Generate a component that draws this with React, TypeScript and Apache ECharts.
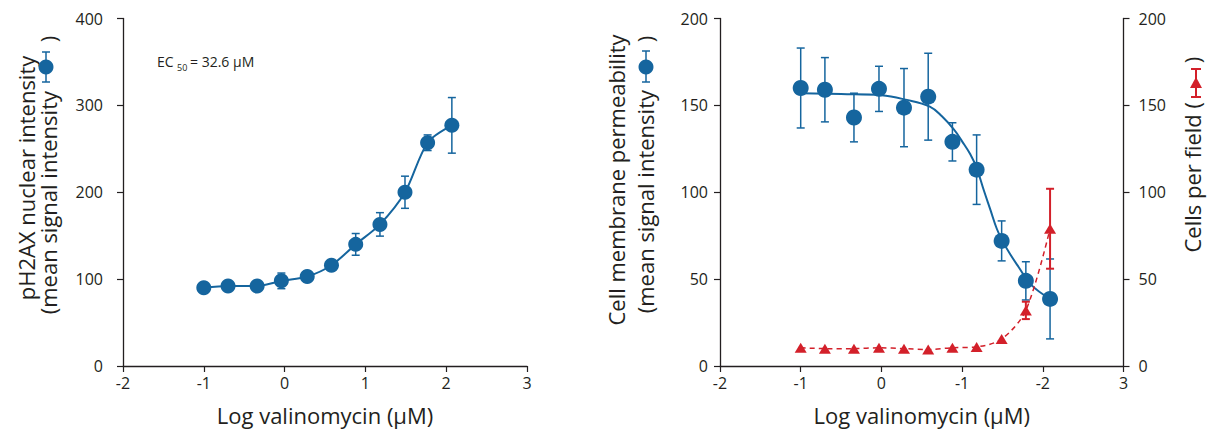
import React, { useEffect, useRef } from 'react';
import * as echarts from 'echarts';

// ---- Data ----
const leftX = [-1, -0.7, -0.34, -0.04, 0.28, 0.58, 0.88, 1.18, 1.49, 1.77, 2.07];
const leftY = [90, 92, 92, 98, 103, 116, 140, 163, 200, 257, 277];
const leftErr = [2, 2, 2, 9, 3, 3, 12.5, 13.5, 18.5, 9, 32];

const rightX = [-1, -0.7, -0.34, -0.03, 0.28, 0.58, 0.88, 1.18, 1.49, 1.79, 2.09];
const permY = [160, 159, 143, 159.5, 148.7, 155, 129, 113, 72, 49, 38.6];
const permErr = [23, 18.5, 14, 13, 22.5, 25, 11, 20, 11.5, 11, 23];

const cellsY = [10.5, 10, 10, 10.5, 10, 9.5, 10.5, 11, 15.5, 32, 79];
const cellsErr = [0, 0, 0, 0, 0, 0, 0, 0, 0, 5, 23];

const fitX = [-1, -0.5, 0, 0.3, 0.6, 0.75, 0.9, 1.0, 1.1, 1.18, 1.27, 1.35, 1.43, 1.5, 1.6, 1.7, 1.85, 2.09];
const fitY = [157, 156.5, 155.8, 153.3, 149.3, 143.7, 136, 129.3, 122, 114, 101, 90, 79, 72, 64, 57, 47, 38.6];

const leftXTicks = ['-2', '-1', '0', '1', '2', '3'];
const rightXTicks = ['-2', '-1', '0', '-1', '-2', '3'];

const BLUE = '#15659e';
const RED = '#d3202a';
const INK = '#231f20';
const FONT = 'Open Sans';
const TITLE = 22;
const TICK = 16;

const pairs = (xs: number[], ys: number[]) => xs.map((x, i) => [x, ys[i]]);
const errs = (xs: number[], ys: number[], es: number[]) => xs.map((x, i) => [x, ys[i] - es[i], ys[i] + es[i]]);

const errRender = (color: string, lw: number) => (params: any, api: any) => {
  const x = api.value(0);
  const lo = api.value(1);
  const hi = api.value(2);
  if (hi - lo <= 0) return null;
  const p1 = api.coord([x, hi]);
  const p2 = api.coord([x, lo]);
  const w = 4;
  const style = { stroke: color, lineWidth: lw, fill: 'none' };
  return {
    type: 'group',
    children: [
      { type: 'line', shape: { x1: p1[0], y1: p1[1], x2: p2[0], y2: p2[1] }, style },
      { type: 'line', shape: { x1: p1[0] - w, y1: p1[1], x2: p1[0] + w, y2: p1[1] }, style },
      { type: 'line', shape: { x1: p2[0] - w, y1: p2[1], x2: p2[0] + w, y2: p2[1] }, style },
    ],
  };
};

const axisLine = { show: true, onZero: false, lineStyle: { color: INK, width: 1.3 } };
const axisTick = { show: true, length: 6, lineStyle: { color: INK, width: 1.2 } };

const xAxisBase = (gridIndex: number, ticks: string[]) => ({
  gridIndex,
  type: 'value',
  min: -2,
  max: 3,
  interval: 1,
  axisLine,
  axisTick,
  splitLine: { show: false },
  axisLabel: {
    fontSize: TICK,
    fontFamily: FONT,
    color: INK,
    margin: 9,
    formatter: (v: number) => ticks[Math.round(v + 2)],
  },
  name: 'Log valinomycin (µM)',
  nameLocation: 'middle',
  nameGap: 38,
  nameTextStyle: { fontSize: TITLE, fontFamily: FONT, color: INK },
});

const rotText = (text: string, x: number, y: number, align: string, size = TITLE, color = INK) => ({
  type: 'text',
  x,
  y,
  rotation: Math.PI / 2,
  style: {
    text,
    fill: color,
    fontSize: size,
    fontFamily: FONT,
    textAlign: align,
    align,
    textVerticalAlign: 'middle',
    verticalAlign: 'middle',
  },
});

const legendCircle = (cx: number, cy: number, top: number, bottom: number) => [
  { type: 'line', shape: { x1: cx, y1: top, x2: cx, y2: bottom }, style: { stroke: BLUE, lineWidth: 1.5 } },
  { type: 'line', shape: { x1: cx - 4, y1: top, x2: cx + 4, y2: top }, style: { stroke: BLUE, lineWidth: 1.5 } },
  { type: 'line', shape: { x1: cx - 4, y1: bottom, x2: cx + 4, y2: bottom }, style: { stroke: BLUE, lineWidth: 1.5 } },
  { type: 'circle', shape: { cx, cy, r: 7.5 }, style: { fill: BLUE } },
];

const legendTriangle = (cx: number, cy: number, top: number, bottom: number) => [
  { type: 'line', shape: { x1: cx, y1: top, x2: cx, y2: bottom }, style: { stroke: RED, lineWidth: 2 } },
  { type: 'line', shape: { x1: cx - 5, y1: top, x2: cx + 5, y2: top }, style: { stroke: RED, lineWidth: 2 } },
  { type: 'line', shape: { x1: cx - 5, y1: bottom, x2: cx + 5, y2: bottom }, style: { stroke: RED, lineWidth: 2 } },
  { type: 'polygon', shape: { points: [[cx, cy - 6], [cx - 6, cy + 5], [cx + 6, cy + 5]] }, style: { fill: RED } },
];

export default function App() {
  const ref = useRef<HTMLDivElement>(null);
  useEffect(() => {
    document.body.style.margin = '0';
    const chart = echarts.init(ref.current!, null, { renderer: 'svg' });
    const option: any = {
      animation: false,
      backgroundColor: '#ffffff',
      grid: [
        { left: 123, top: 18.5, width: 404, height: 347.5 },
        { left: 720, top: 18.5, width: 403.5, height: 347.5 },
      ],
      xAxis: [xAxisBase(0, leftXTicks), xAxisBase(1, rightXTicks)],
      yAxis: [
        {
          gridIndex: 0, type: 'value', min: 0, max: 400, interval: 100,
          axisLine, axisTick, splitLine: { show: false },
          axisLabel: { fontSize: TICK, fontFamily: FONT, color: INK, margin: 20 },
        },
        {
          gridIndex: 1, type: 'value', min: 0, max: 200, interval: 50,
          axisLine, axisTick, splitLine: { show: false },
          axisLabel: { fontSize: TICK, fontFamily: FONT, color: INK, margin: 12 },
        },
        {
          gridIndex: 1, type: 'value', position: 'right', min: 0, max: 200, interval: 50,
          axisLine, axisTick, splitLine: { show: false },
          axisLabel: { fontSize: TICK, fontFamily: FONT, color: INK, margin: 15 },
        },
      ],
      series: [
        // left chart
        {
          type: 'custom', xAxisIndex: 0, yAxisIndex: 0, z: 1,
          renderItem: errRender(BLUE, 1.5), encode: { x: 0, y: [1, 2] },
          data: errs(leftX, leftY, leftErr),
        },
        {
          type: 'line', xAxisIndex: 0, yAxisIndex: 0, z: 2, smooth: 0.3, symbol: 'none',
          lineStyle: { color: BLUE, width: 2 }, data: pairs(leftX, leftY),
        },
        {
          type: 'scatter', xAxisIndex: 0, yAxisIndex: 0, z: 3, symbolSize: 15,
          itemStyle: { color: BLUE, opacity: 1 }, data: pairs(leftX, leftY),
        },
        // right chart - permeability
        {
          type: 'custom', xAxisIndex: 1, yAxisIndex: 1, z: 1,
          renderItem: errRender(BLUE, 1.5), encode: { x: 0, y: [1, 2] },
          data: errs(rightX, permY, permErr),
        },
        {
          type: 'line', xAxisIndex: 1, yAxisIndex: 1, z: 2, smooth: 0.4, symbol: 'none',
          lineStyle: { color: BLUE, width: 2 }, data: pairs(fitX, fitY),
        },
        {
          type: 'scatter', xAxisIndex: 1, yAxisIndex: 1, z: 3, symbolSize: 16,
          itemStyle: { color: BLUE, opacity: 1 }, data: pairs(rightX, permY),
        },
        // right chart - cells per field
        {
          type: 'custom', xAxisIndex: 1, yAxisIndex: 2, z: 4,
          renderItem: errRender(RED, 2), encode: { x: 0, y: [1, 2] },
          data: errs(rightX, cellsY, cellsErr),
        },
        {
          type: 'line', xAxisIndex: 1, yAxisIndex: 2, z: 4, smooth: 0.3, symbol: 'none',
          lineStyle: { color: RED, width: 1.5, type: [5, 4] }, data: pairs(rightX, cellsY),
        },
        {
          type: 'scatter', xAxisIndex: 1, yAxisIndex: 2, z: 5, symbol: 'triangle', symbolSize: [12, 10],
          itemStyle: { color: RED, opacity: 1 }, data: pairs(rightX, cellsY),
        },
      ],
      graphic: [
        // left y title
        rotText('pH2AX nuclear intensity', 26, 178, 'center'),
        rotText('(mean signal intensity', 48, 91, 'right'),
        rotText(')', 48, 39, 'center'),
        ...legendCircle(46, 67, 52, 82),
        // EC50 annotation
        { type: 'text', x: 157, y: 61, style: { text: 'EC', fill: INK, fontSize: 14, fontFamily: FONT, textVerticalAlign: 'middle', verticalAlign: 'middle' } },
        { type: 'text', x: 177, y: 67, style: { text: '50', fill: INK, fontSize: 9, fontFamily: FONT, textVerticalAlign: 'middle', verticalAlign: 'middle' } },
        { type: 'text', x: 190, y: 61, style: { text: '= 32.6 µM', fill: INK, fontSize: 14, fontFamily: FONT, textVerticalAlign: 'middle', verticalAlign: 'middle' } },
        // right chart left y title
        rotText('Cell membrane permeability', 616, 180, 'center'),
        rotText('(mean signal intensity', 645, 90, 'right'),
        rotText(')', 645, 39, 'center'),
        ...legendCircle(646, 67, 51, 82),
        // right y title
        rotText('Cells per field (', 1192, 102, 'right'),
        rotText(')', 1192, 60, 'center'),
        ...legendTriangle(1196, 83, 69, 97),
      ],
    };
    chart.setOption(option);
    return () => chart.dispose();
  }, []);
  return <div ref={ref} style={{ width: 1216, height: 433 }} />;
}
